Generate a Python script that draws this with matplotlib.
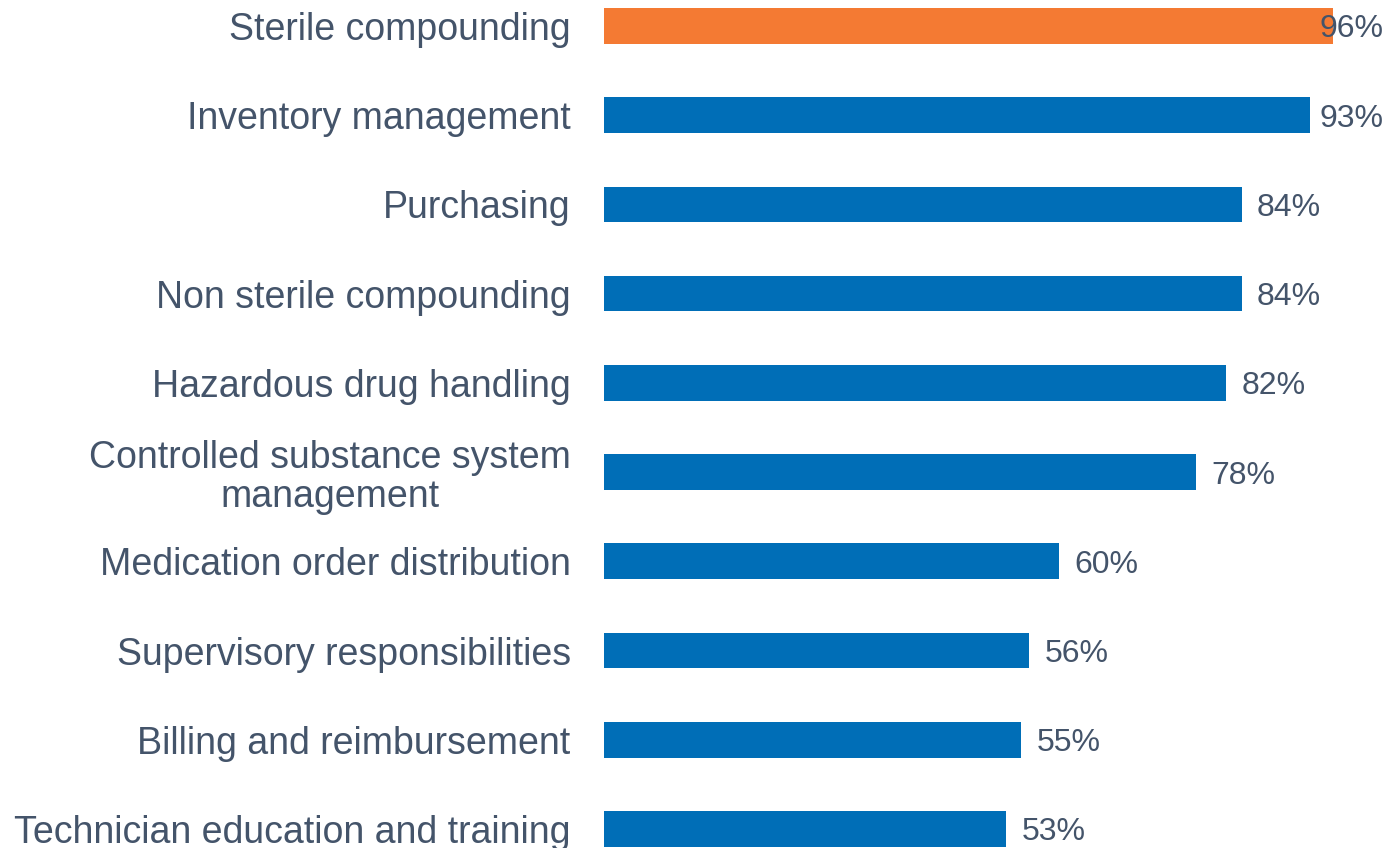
import matplotlib.pyplot as plt

categories = [
    "Sterile compounding",
    "Inventory management",
    "Purchasing",
    "Non sterile compounding",
    "Hazardous drug handling",
    "Controlled substance system\nmanagement",
    "Medication order distribution",
    "Supervisory responsibilities",
    "Billing and reimbursement",
    "Technician education and training",
]
values = [96, 93, 84, 84, 82, 78, 60, 56, 55, 53]
highlight = "Sterile compounding"

blue = "#006EB7"
orange = "#F47A33"
text_color = "#44546A"

plt.rcParams["font.family"] = ["Liberation Sans", "DejaVu Sans"]

fig = plt.figure(figsize=(13.88, 8.48), dpi=100)
ax = fig.add_axes([604 / 1388, 0, 1 - 604 / 1388, 1])

ypos = list(range(len(categories)))
colors = [orange if c == highlight else blue for c in categories]
ax.barh(ypos, values, height=0.40, color=colors)

ax.set_xlim(0, 103.3)
ax.set_ylim(9.213, -0.291)

ax.set_yticks(ypos)
ax.set_yticklabels(categories, fontsize=27, color=text_color,
                   multialignment="center", linespacing=1.1)
ax.tick_params(axis="y", length=0, pad=24)
ax.set_xticks([])
for s in ax.spines.values():
    s.set_visible(False)

# labels past the bar end; the longest one is kept inside the figure
for y, v in zip(ypos, values):
    ax.annotate(f"{v}%", xy=(min(v, 92.3), y), xytext=(11, 0), textcoords="offset points",
                ha="left", va="center_baseline", fontsize=23, color=text_color)

fig.savefig("out.png", dpi=100)
